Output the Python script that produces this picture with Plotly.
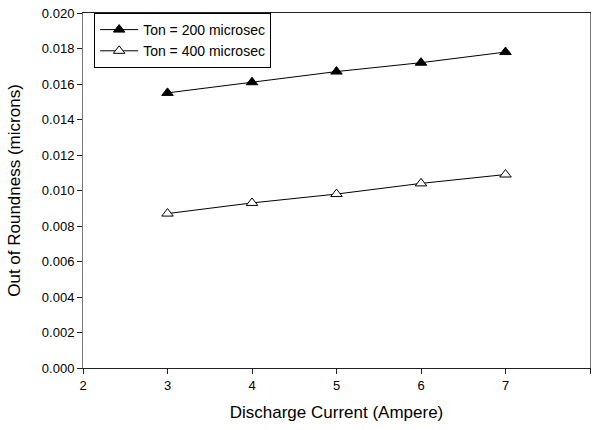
import plotly.graph_objects as go

current = [3, 4, 5, 6, 7]
ton200 = [0.0155, 0.0161, 0.0167, 0.0172, 0.0178]
ton400 = [0.0087, 0.0093, 0.0098, 0.0104, 0.0109]
x_ticks = [2, 3, 4, 5, 6, 7, 8]
y_ticks = [0.000, 0.002, 0.004, 0.006, 0.008, 0.010, 0.012, 0.014, 0.016, 0.018, 0.020]
y_tick_labels = [f"{v:.3f}" for v in y_ticks]

fig = go.Figure()
fig.add_trace(go.Scatter(
    x=current, y=ton200, mode="lines+markers", name="Ton = 200 microsec",
    line=dict(color="black", width=1),
    marker=dict(symbol="triangle-up", size=10, color="black", line=dict(color="black", width=1)),
))
fig.add_trace(go.Scatter(
    x=current, y=ton400, mode="lines+markers", name="Ton = 400 microsec",
    line=dict(color="black", width=1),
    marker=dict(symbol="triangle-up", size=10, color="white", line=dict(color="black", width=1)),
))

fig.update_layout(
    width=593, height=430,
    margin=dict(l=83, r=3, t=13, b=62),
    paper_bgcolor="white", plot_bgcolor="white",
    font=dict(family="Liberation Sans, Arial, sans-serif", size=13, color="black"),
    showlegend=True,
    legend=dict(
        x=0.022, y=1, xanchor="left", yanchor="top",
        bordercolor="black", borderwidth=1, bgcolor="white",
        font=dict(size=14), itemwidth=38,
    ),
    xaxis=dict(
        range=[2, 8], tickvals=x_ticks, ticktext=[str(v) for v in x_ticks],
        showgrid=False, zeroline=False, automargin=False,
        showline=True, linecolor="#222", linewidth=1, mirror=True,
        ticks="outside", ticklen=5, tickcolor="#222",
        title=dict(text="Discharge Current (Ampere)", font=dict(size=17), standoff=14),
    ),
    yaxis=dict(
        range=[0, 0.020], tickvals=y_ticks, ticktext=y_tick_labels,
        showgrid=False, zeroline=False, automargin=False,
        showline=True, linecolor="#777", linewidth=1, mirror=True,
        ticks="outside", ticklen=5, tickcolor="#222",
        title=dict(text="Out of Roundness (microns)", font=dict(size=17), standoff=16),
    ),
)

fig.write_html(
    "out.html",
    config={"displayModeBar": False},
    post_script="document.body.style.margin='0';document.body.style.overflow='hidden';",
)
